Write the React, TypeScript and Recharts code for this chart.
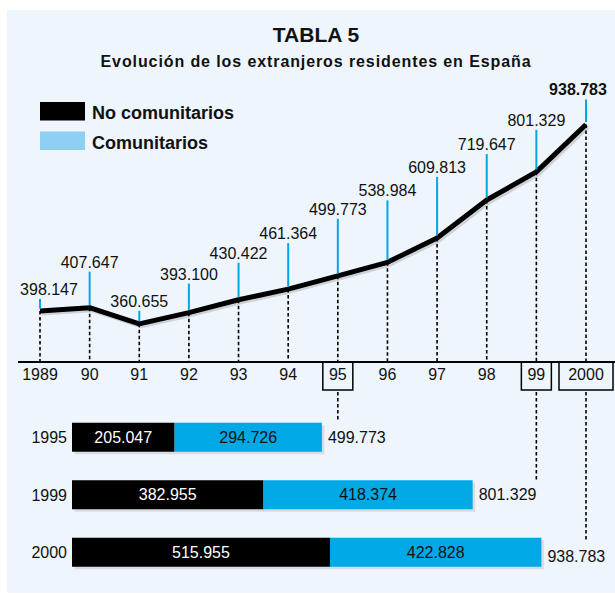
import React from "react";
import { LineChart, Line, XAxis, YAxis, BarChart, Bar, LabelList } from "recharts";

// Evolución total (miles)
const YEARS = [1989, 1990, 1991, 1992, 1993, 1994, 1995, 1996, 1997, 1998, 1999, 2000];
const YEAR_LABELS = ["1989", "90", "91", "92", "93", "94", "95", "96", "97", "98", "99", "2000"];
const TOTAL_RESIDENTS = [398.147, 407.647, 360.655, 393.1, 430.422, 461.364, 499.773, 538.984, 609.813, 719.647, 801.329, 938.783];

// Desglose por años
const DETAIL_YEARS = [1995, 1999, 2000];
const NO_COMUNITARIOS = [205.047, 382.955, 515.955];
const COMUNITARIOS = [294.726, 418.374, 422.828];

const SERIES_NAMES = ["No comunitarios", "Comunitarios"];

const W = 615;
const H = 594;
const FONT = '"Liberation Sans", Arial, Helvetica, sans-serif';
const BLUE = "#00a8e6";
const LEGEND_BLUE = "#8ecff3";
const PANEL = "#eef5fc";
const TEXT = "#111";

// layout of the line part
const PLOT_TOP = 93;
const PLOT_BOTTOM = 362;
const AXIS_H = 40;
const LEADER = [12, 36, 13, 29, 37, 46, 57, 62, 61, 46, 42, 25];

// layout of the bar part
const BAR_TOP = 400;
const BAR_M_TOP = 8.75;
const BAR_BAND = 57.5;
const EXT_GAP = [16, 13, 11];

const lineData = YEARS.map((year, i) => ({
  year,
  label: YEAR_LABELS[i],
  total: TOTAL_RESIDENTS[i],
}));

const barData = DETAIL_YEARS.map((year, i) => ({
  year: String(year),
  no: NO_COMUNITARIOS[i],
  com: COMUNITARIOS[i],
  total: NO_COMUNITARIOS[i] + COMUNITARIOS[i],
}));

const fmt = (v: number) => Number(v).toFixed(3);

const barCenter = (i: number) => BAR_TOP + BAR_M_TOP + BAR_BAND * (i + 0.5);

const YearTick = (props: any) => {
  const { x, y, payload, index } = props;
  const highlighted = DETAIL_YEARS.includes(YEARS[index]);
  const w = String(payload.value).length > 2 ? 54 : 30;
  return (
    <g>
      {highlighted && (
        <rect x={x - w / 2} y={y} width={w} height={28} fill="none" stroke="#000" strokeWidth={1.5} />
      )}
      <text x={x} y={y + 18} textAnchor="middle" fontSize={16} fill={TEXT}>
        {payload.value}
      </text>
    </g>
  );
};

const renderDot = (props: any) => {
  const { cx, cy, index, payload } = props;
  const top = cy - LEADER[index];
  const first = index === 0;
  const last = index === TOTAL_RESIDENTS.length - 1;
  const bi = DETAIL_YEARS.indexOf(payload.year);
  return (
    <g key={`pt-${index}`}>
      <line x1={cx} x2={cx} y1={cy} y2={PLOT_BOTTOM} stroke="#000" strokeWidth={1.6} strokeDasharray="3.5 2.5" />
      {bi >= 0 && (
        <line
          x1={cx}
          x2={cx}
          y1={PLOT_BOTTOM + 30}
          y2={barCenter(bi) - EXT_GAP[bi]}
          stroke="#000"
          strokeWidth={1.6}
          strokeDasharray="3.5 2.5"
        />
      )}
      <line x1={cx} x2={cx} y1={cy - 2.5} y2={top} stroke={BLUE} strokeWidth={2} />
      <text
        x={cx + (first ? 9 : last ? -8 : 0)}
        y={top - 4}
        textAnchor="middle"
        fontSize={16}
        fontWeight={last ? "bold" : "normal"}
        fill={TEXT}
      >
        {fmt(payload.total)}
      </text>
    </g>
  );
};

const ShadowBar = (p: any) => (
  <g>
    <rect x={p.x + 2.5} y={p.y + 2.5} width={p.width} height={p.height} fill="#d8dde3" />
    <rect x={p.x} y={p.y} width={p.width} height={p.height} fill={p.fill} />
  </g>
);

const TotalLabel = (props: any) => {
  const vb = props.viewBox ?? props;
  const { x, y, width, height } = vb;
  const last = props.index === DETAIL_YEARS.length - 1;
  return (
    <text x={x + width + 6} y={y + height / 2 + (last ? 4 : 0)} dy="0.35em" fontSize={16} fill={TEXT}>
      {fmt(props.value)}
    </text>
  );
};

export default function App() {
  return (
    <div
      style={{
        position: "absolute",
        left: 0,
        top: 0,
        width: W,
        height: H,
        background: "#fff",
        overflow: "hidden",
        fontFamily: FONT,
      }}
    >
      <style>{`.trend .recharts-line-curve{filter:drop-shadow(2px 2px 0 rgba(0,0,0,0.14));}`}</style>

      {/* panel, titles, legend */}
      <svg width={W} height={H} style={{ position: "absolute", left: 0, top: 0 }}>
        <rect x={7} y={10} width={W - 7} height={H - 11} fill={PANEL} />
        <text x={316} y={42} textAnchor="middle" fontSize={21} fontWeight="bold" fill={TEXT}>
          TABLA 5
        </text>
        <text x={316} y={67} textAnchor="middle" fontSize={16} fontWeight="bold" letterSpacing={0.9} fill={TEXT}>
          Evolución de los extranjeros residentes en España
        </text>
        {SERIES_NAMES.map((name, i) => (
          <g key={name}>
            <rect x={40} y={102 + i * 29.5} width={45} height={18.5} fill={i === 0 ? "#000" : LEGEND_BLUE} />
            <text x={92} y={119 + i * 30} fontSize={18} fontWeight="bold" fill={TEXT}>
              {name}
            </text>
          </g>
        ))}
      </svg>

      {/* stacked bars */}
      <div style={{ position: "absolute", left: 0, top: BAR_TOP }}>
        <BarChart
          layout="vertical"
          width={W}
          height={194}
          data={barData}
          margin={{ top: BAR_M_TOP, right: 43, bottom: 194 - BAR_M_TOP - BAR_BAND * 3, left: 0 }}
          barSize={29}
        >
          <XAxis type="number" domain={[0, 1000]} hide />
          <YAxis
            type="category"
            dataKey="year"
            width={72}
            axisLine={false}
            tickLine={false}
            tickSize={0}
            tickMargin={5}
            tick={{ fill: TEXT, fontSize: 16 }}
          />
          <Bar dataKey="no" stackId="a" fill="#000" shape={ShadowBar} isAnimationActive={false}>
            <LabelList dataKey="no" position="center" fill="#fff" fontSize={16} formatter={fmt} />
          </Bar>
          <Bar dataKey="com" stackId="a" fill={BLUE} shape={ShadowBar} isAnimationActive={false}>
            <LabelList dataKey="com" position="center" fill={TEXT} fontSize={16} formatter={fmt} />
            <LabelList dataKey="total" content={TotalLabel} />
          </Bar>
        </BarChart>
      </div>

      {/* total line */}
      <div style={{ position: "absolute", left: 0, top: 0 }}>
        <LineChart
          width={W}
          height={H}
          data={lineData}
          margin={{ top: PLOT_TOP, right: 0, bottom: H - PLOT_BOTTOM - AXIS_H, left: 18 }}
        >
          <XAxis
            dataKey="label"
            height={AXIS_H}
            padding={{ left: 22, right: 29 }}
            axisLine={{ stroke: "#000", strokeWidth: 2 }}
            tickLine={false}
            tickSize={0}
            tickMargin={0}
            interval={0}
            tick={<YearTick />}
          />
          <YAxis hide domain={[250, 1030]} />
          <Line
            className="trend"
            dataKey="total"
            stroke="#000"
            strokeWidth={5}
            strokeLinejoin="round"
            dot={renderDot}
            activeDot={false}
            isAnimationActive={false}
          />
        </LineChart>
      </div>
    </div>
  );
}
